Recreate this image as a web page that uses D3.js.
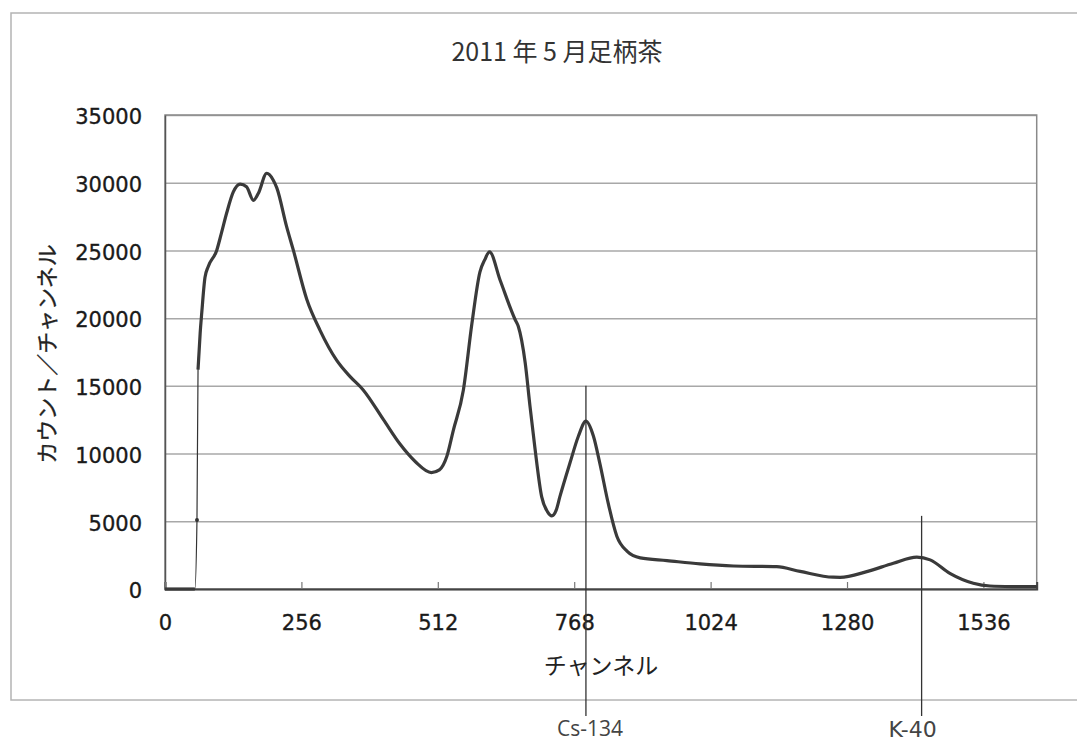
<!DOCTYPE html>
<html>
<head>
<meta charset="utf-8">
<script src="https://cdn.jsdelivr.net/npm/d3@7"></script>
<style>
  body { margin: 0; background: #fff; }
  svg { display: block; }
</style>
</head>
<body>
<div id="chart"></div>
<script>
// gamma spectrum: [channel, counts per channel]
const spectrum = [
  [0, 0], [56, 0], [60, 5100], [62, 16200], [66, 18900], [69, 20400], [75, 23000], [81, 23800],
  [97, 25000], [106, 26300], [116, 27800], [128, 29300], [141, 29900], [153, 29700], [166, 28700],
  [175, 29200], [191, 30700], [196, 30600], [203, 30200], [210, 29600], [228, 26800], [241, 25000],
  [266, 21400], [291, 19100], [322, 16900], [347, 15700], [372, 14700], [410, 12500], [441, 10700],
  [470, 9400], [500, 8600], [515, 8800], [529, 9800], [541, 11700], [560, 14700], [576, 19600],
  [591, 23400], [600, 24300], [609, 24900], [629, 22800], [657, 19900], [663, 19400], [676, 16700],
  [685, 13500], [694, 10500], [707, 6800], [718, 5700], [726, 5400], [734, 5800], [741, 6800],
  [760, 9300], [776, 11300], [790, 12400], [804, 11300], [816, 9300], [832, 6300], [848, 3900],
  [867, 2800], [892, 2300], [942, 2100], [1004, 1850], [1067, 1700], [1148, 1650], [1192, 1300],
  [1254, 870], [1267, 860], [1317, 1280], [1367, 1900], [1411, 2350], [1436, 2150], [1473, 1150],
  [1517, 420], [1548, 220], [1590, 180], [1636, 170]
];
const xTicks = [0, 256, 512, 768, 1024, 1280, 1536];
const yTicks = [0, 5000, 10000, 15000, 20000, 25000, 30000, 35000];
const xMax = 1636;
const yMax = 35000;
// nuclide marker lines: channel and counts where the line starts
const peaks = [
  { name: 'Cs-134', ch: 790, top: 15000 },
  { name: 'K-40', ch: 1420, top: 5400 }
];
const title = '2011 年 5 月足柄茶';
const xTitle = 'チャンネル';
const yTitle = 'カウント／チャンネル';

const W = 1077, H = 746;
const M = { l: 165, r: 40.3, t: 115, b: 157 };
const jp = '"Noto Sans CJK JP", "Noto Sans", sans-serif';
const num = '"DejaVu Sans", sans-serif';

const svg = d3.select('#chart').append('svg')
  .attr('width', W)
  .attr('height', H);

// outer chart frame (runs off the right edge)
svg.append('rect')
  .attr('x', 11).attr('y', 13)
  .attr('width', 1100).attr('height', 687)
  .attr('fill', 'none')
  .attr('stroke', '#b4b4b4')
  .attr('stroke-width', 1.5);

const x = d3.scaleLinear().domain([0, xMax]).range([M.l, W - M.r]);
const y = d3.scaleLinear().domain([0, yMax]).range([H - M.b, M.t]);

// grid
svg.append('g')
  .attr('transform', `translate(${M.l},0)`)
  .call(d3.axisLeft(y).tickValues(yTicks).tickSize(-(W - M.l - M.r)).tickFormat(''))
  .call(g => g.select('.domain').remove())
  .call(g => g.selectAll('line').attr('stroke', '#a8a8a8').attr('stroke-width', 1.5));

// plot border
svg.append('rect')
  .attr('x', M.l).attr('y', M.t)
  .attr('width', W - M.l - M.r).attr('height', H - M.t - M.b)
  .attr('fill', 'none')
  .attr('stroke', '#8a8a8a')
  .attr('stroke-width', 1.5);

// y axis labels
svg.append('g')
  .attr('transform', `translate(${M.l},0)`)
  .call(d3.axisLeft(y).tickValues(yTicks).tickSize(0).tickPadding(23).tickFormat(d3.format('d')))
  .call(g => g.select('.domain').attr('stroke', '#555').attr('stroke-width', 1.5))
  .call(g => g.selectAll('text')
    .attr('fill', '#1a1a1a')
    .attr('stroke', '#1a1a1a')
    .attr('stroke-width', 0.35)
    .style('font-family', num)
    .style('font-size', '21px')
    .attr('dy', '0.42em'));

// x axis: small inside ticks
svg.append('g')
  .attr('transform', `translate(0,${H - M.b})`)
  .call(d3.axisBottom(x).tickValues(xTicks).tickSize(-7).tickPadding(26).tickFormat(d3.format('d')))
  .call(g => g.select('.domain').attr('stroke', '#444').attr('stroke-width', 2))
  .call(g => g.selectAll('line').attr('stroke', '#777').attr('stroke-width', 1.2))
  .call(g => g.selectAll('text')
    .attr('fill', '#1a1a1a')
    .attr('stroke', '#1a1a1a')
    .attr('stroke-width', 0.35)
    .style('font-family', num)
    .style('font-size', '21px'));

// spectrum: thin joining line, thick trace where points are dense
const line = d3.line()
  .x(d => x(d[0]))
  .y(d => y(d[1]))
  .curve(d3.curveMonotoneX);

svg.append('path')
  .datum(spectrum)
  .attr('fill', 'none')
  .attr('stroke', '#333')
  .attr('stroke-width', 1.2)
  .attr('d', line);

[spectrum.filter(d => d[0] <= 56), spectrum.filter(d => d[0] >= 62)].forEach(part => {
  svg.append('path')
    .datum(part)
    .attr('fill', 'none')
    .attr('stroke', '#3a3a3a')
    .attr('stroke-width', 3.2)
    .attr('stroke-linejoin', 'round')
    .attr('d', line);
});

svg.append('circle')
  .datum(spectrum[2])
  .attr('cx', d => x(d[0]))
  .attr('cy', d => y(d[1]))
  .attr('r', 2)
  .attr('fill', '#333');

// nuclide lines
peaks.forEach(p => {
  svg.append('line')
    .attr('x1', x(p.ch)).attr('x2', x(p.ch))
    .attr('y1', y(p.top)).attr('y2', 716)
    .attr('stroke', '#333')
    .attr('stroke-width', 1.3);
});
svg.append('text')
  .attr('x', x(peaks[0].ch) + 4).attr('y', 736)
  .attr('text-anchor', 'middle')
  .attr('fill', '#444')
  .style('font-family', '"Open Sans", sans-serif')
  .style('font-size', '21px')
  .text(peaks[0].name);
svg.append('text')
  .attr('x', x(peaks[1].ch) - 9).attr('y', 737)
  .attr('text-anchor', 'middle')
  .attr('fill', '#444')
  .style('font-family', num)
  .style('font-size', '22px')
  .text(peaks[1].name);

// titles
svg.append('text')
  .attr('x', 557).attr('y', 61)
  .attr('text-anchor', 'middle')
  .attr('fill', '#333')
  .style('font-family', jp)
  .style('font-size', '25px')
  .text(title);

svg.append('text')
  .attr('x', 601).attr('y', 674)
  .attr('text-anchor', 'middle')
  .attr('fill', '#222')
  .style('font-family', jp)
  .style('font-size', '23px')
  .text(xTitle);

svg.append('text')
  .attr('transform', 'translate(55,354) rotate(-90)')
  .attr('text-anchor', 'middle')
  .attr('fill', '#222')
  .attr('stroke', '#222')
  .attr('stroke-width', 0.3)
  .style('font-family', jp)
  .style('font-size', '22px')
  .text(yTitle);
</script>
</body>
</html>
